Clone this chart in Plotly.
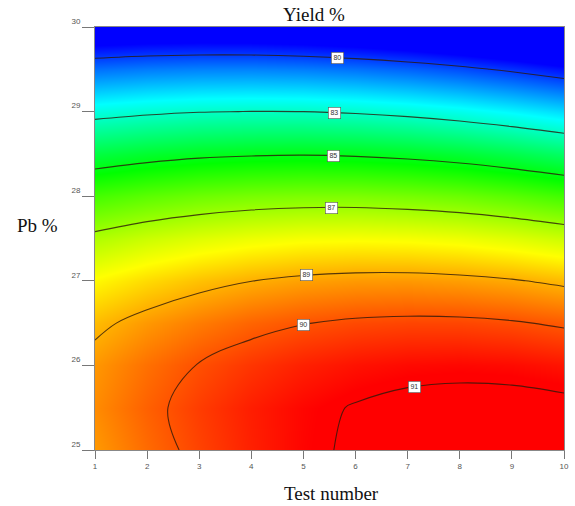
import numpy as np
import plotly.graph_objects as go

# ---- data ----
test_number = [1, 2, 3, 4, 5, 6, 7, 8, 9, 10]
pb_percent = [25.0, 25.5, 26.0, 26.5, 27.0, 27.5, 28.0, 28.5, 29.0, 29.5, 30.0]
yield_pct = [
    [89.22, 89.73, 90.17, 90.55, 90.86, 91.10, 91.27, 91.38, 91.42, 91.39],
    [89.37, 89.84, 90.24, 90.58, 90.84, 91.04, 91.18, 91.24, 91.24, 91.17],
    [89.24, 89.67, 90.03, 90.32, 90.55, 90.71, 90.80, 90.83, 90.79, 90.68],
    [88.84, 89.23, 89.54, 89.80, 89.98, 90.10, 90.15, 90.14, 90.06, 89.91],
    [88.16, 88.50, 88.78, 88.99, 89.14, 89.22, 89.23, 89.17, 89.05, 88.86],
    [87.20, 87.51, 87.74, 87.91, 88.02, 88.05, 88.02, 87.93, 87.76, 87.53],
    [85.97, 86.23, 86.43, 86.56, 86.62, 86.62, 86.54, 86.41, 86.20, 85.93],
    [84.46, 84.68, 84.84, 84.92, 84.95, 84.90, 84.79, 84.61, 84.36, 84.05],
    [82.67, 82.85, 82.97, 83.01, 83.00, 82.91, 82.76, 82.54, 82.25, 81.90],
    [80.61, 80.75, 80.82, 80.83, 80.77, 80.64, 80.45, 80.19, 79.86, 79.47],
    [78.27, 78.37, 78.40, 78.37, 78.27, 78.10, 77.86, 77.56, 77.19, 76.76],
]
contour_levels = [80, 83, 85, 87, 89, 90, 91]
x_ticks = [1, 2, 3, 4, 5, 6, 7, 8, 9, 10]
y_ticks = [25, 26, 27, 28, 29, 30]

# ---- layout choices ----
label_x_pos = [5.66, 5.60, 5.58, 5.53, 5.05, 5.00, 7.13]
ZMIN, ZMAX = 79.3, 90.9
colorscale = [
    [0.0, "rgb(0,0,255)"],
    [(82.3 - ZMIN) / (ZMAX - ZMIN), "rgb(0,255,255)"],
    [(85.2 - ZMIN) / (ZMAX - ZMIN), "rgb(0,255,0)"],
    [(88.1 - ZMIN) / (ZMAX - ZMIN), "rgb(255,255,0)"],
    [1.0, "rgb(255,0,0)"],
]

Z = np.array(yield_pct)
xs = np.array(test_number, dtype=float)
ys = np.array(pb_percent, dtype=float)

fig = go.Figure()
fig.add_trace(go.Heatmap(
    x=test_number, y=pb_percent, z=yield_pct, zsmooth="best",
    colorscale=colorscale, zmin=ZMIN, zmax=ZMAX, showscale=False,
    hoverinfo="skip",
))
for lv in contour_levels:
    fig.add_trace(go.Contour(
        x=test_number, y=pb_percent, z=yield_pct,
        contours=dict(start=lv, end=lv, size=1, coloring="none"),
        line=dict(color="rgba(45,25,10,0.8)", width=1.1),
        showscale=False, hoverinfo="skip",
    ))


def level_y(xv, lv):
    col = np.array([np.interp(xv, xs, row) for row in Z])
    for i in range(len(ys) - 1, 0, -1):
        hi, lo = col[i], col[i - 1]
        if (hi - lv) * (lo - lv) <= 0 and hi != lo:
            return ys[i] + (lv - hi) / (lo - hi) * (ys[i - 1] - ys[i])
    return None


annotations = []
for lv, lx in zip(contour_levels, label_x_pos):
    ly = level_y(lx, lv)
    if ly is None:
        continue
    annotations.append(dict(
        x=lx, y=ly, xref="x", yref="y", text=str(lv), showarrow=False,
        font=dict(family="Liberation Sans", size=7, color="#333"),
        bgcolor="white", bordercolor="#555", borderwidth=0.6, borderpad=1.8,
    ))

serif = "Liberation Serif"
L, R = 95, 6
PW = 575.0 - L - R
annotations += [
    dict(text="Yield %", x=(316 - L) / PW, y=(450 - 15) / 423, xref="paper", yref="paper",
         showarrow=False, font=dict(family=serif, size=19, color="#111"),
         xanchor="center", yanchor="middle"),
    dict(text="Test number", x=(334 - L) / PW, y=(450 - 493) / 423, xref="paper", yref="paper",
         showarrow=False, font=dict(family=serif, size=19, color="#111"),
         xanchor="center", yanchor="middle"),
    dict(text="Pb %", x=(37 - L) / PW, y=(450 - 225) / 423, xref="paper", yref="paper",
         showarrow=False, font=dict(family=serif, size=19, color="#111"),
         xanchor="center", yanchor="middle"),
]

tickfont = dict(family="Liberation Sans", size=8, color="#555")
fig.update_layout(
    width=575, height=506,
    margin=dict(l=L, r=R, t=27, b=56),
    paper_bgcolor="white", plot_bgcolor="white",
    showlegend=False,
    annotations=annotations,
    xaxis=dict(range=[1, 10], tickvals=x_ticks, ticks="outside", ticklen=8,
               tickcolor="#777", showline=True, linecolor="#888", linewidth=1,
               mirror=True, showgrid=False, zeroline=False, tickfont=tickfont),
    yaxis=dict(range=[25, 30], tickvals=y_ticks, ticks="outside", ticklen=12,
               tickcolor="#777", showline=True, linecolor="#888", linewidth=1,
               mirror=True, showgrid=False, zeroline=False, tickfont=tickfont,
               ticklabelshift=-6),
)

fig.write_html("out.html")
